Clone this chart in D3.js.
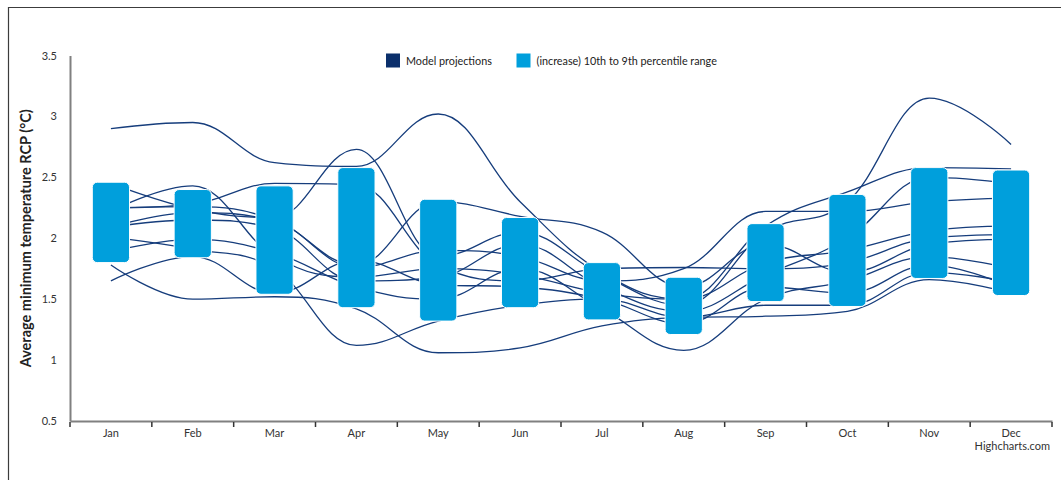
<!DOCTYPE html>
<html>
<head>
<meta charset="utf-8">
<script src="https://cdn.jsdelivr.net/npm/d3@7"></script>
<style>
  html, body { margin: 0; padding: 0; background: #fff; }
  svg { display: block; font-family: Lato, "Open Sans", sans-serif; }
</style>
</head>
<body>
<svg id="chart" width="1061" height="480"></svg>
<script>
// Months on the category axis
const months = ["Jan", "Feb", "Mar", "Apr", "May", "Jun", "Jul", "Aug", "Sep", "Oct", "Nov", "Dec"];

// 10th to 90th percentile range per month (°C increase)
const rangeLow  = [1.80, 1.84, 1.54, 1.43, 1.32, 1.43, 1.33, 1.21, 1.48, 1.44, 1.67, 1.53];
const rangeHigh = [2.46, 2.40, 2.43, 2.58, 2.32, 2.17, 1.80, 1.68, 2.12, 2.36, 2.58, 2.56];

// Individual model projections
const modelA = [2.90, 2.95, 2.62, 2.59, 3.02, 2.30, 1.72, 1.50, 1.80, 1.90, 2.06, 2.10];
const modelB = [1.65, 1.85, 1.55, 1.82, 1.62, 1.60, 1.50, 1.30, 1.60, 1.55, 1.78, 1.60];
const modelC = [1.78, 1.50, 1.52, 1.42, 1.06, 1.10, 1.28, 1.35, 1.36, 1.40, 1.66, 1.55];
const modelD = [2.45, 2.24, 2.17, 2.73, 1.85, 2.05, 1.70, 1.45, 2.05, 2.30, 3.15, 2.77];
const modelE = [2.22, 2.43, 1.85, 1.68, 1.75, 1.70, 1.55, 1.50, 2.10, 2.38, 2.58, 2.57];
const modelF = [2.25, 2.26, 2.15, 1.78, 2.30, 2.18, 2.05, 1.60, 1.95, 1.72, 1.95, 1.99];
const modelG = [2.09, 2.21, 2.14, 1.76, 1.90, 1.85, 1.65, 1.75, 2.22, 2.22, 2.30, 2.33];
const modelH = [2.09, 2.15, 2.08, 1.65, 1.68, 1.95, 1.60, 1.40, 1.70, 2.00, 2.50, 2.45];
const modelI = [2.01, 1.91, 1.75, 1.12, 1.32, 1.45, 1.50, 1.35, 1.45, 1.45, 1.72, 1.64];
const modelJ = [1.89, 1.99, 1.88, 1.60, 1.50, 1.75, 1.42, 1.08, 1.50, 1.65, 1.85, 1.75];
const modelK = [2.25, 2.28, 2.45, 2.44, 1.78, 1.65, 1.75, 1.76, 1.75, 1.80, 2.00, 2.03];

const models = [modelA, modelB, modelC, modelD, modelE, modelF, modelG, modelH, modelI, modelJ, modelK];

const yTicks = [0.5, 1, 1.5, 2, 2.5, 3, 3.5];

const legendItems = [
  { label: "Model projections", color: "#0b2f6b" },
  { label: "(increase) 10th to 9th percentile range", color: "#009fdc" }
];

const svg = d3.select("#chart");
const plot = { left: 70, right: 1052, top: 55.5, bottom: 421 };

const x = d3.scaleBand().domain(months).range([plot.left, plot.right]).padding(0);
const y = d3.scaleLinear().domain([0.5, 3.5]).range([plot.bottom, plot.top]);

// Outer chart frame (left and top edges)
svg.append("path")
  .attr("d", "M8.5,480 V7.5 H1061")
  .attr("fill", "none")
  .attr("stroke", "#3c3c3c")
  .attr("stroke-width", 1.2);

// Spline with smoothing-factor control points, overshoot clamped at extrema
function splinePath(vals) {
  const pts = vals.map((v, i) => ({ x: x(months[i]) + x.bandwidth() / 2, y: y(v) }));
  const n = pts.length;
  pts.forEach((p, i) => {
    if (i > 0 && i < n - 1) {
      const last = pts[i - 1], next = pts[i + 1];
      const lcx = (1.5 * p.x + last.x) / 2.5, lcy0 = (1.5 * p.y + last.y) / 2.5;
      const rcx = (1.5 * p.x + next.x) / 2.5, rcy0 = (1.5 * p.y + next.y) / 2.5;
      const corr = ((rcy0 - lcy0) * (rcx - p.x)) / (rcx - lcx) + p.y - rcy0;
      let lcy = lcy0 + corr, rcy = rcy0 + corr;
      if (lcy > last.y && lcy > p.y) { lcy = Math.max(last.y, p.y); rcy = 2 * p.y - lcy; }
      else if (lcy < last.y && lcy < p.y) { lcy = Math.min(last.y, p.y); rcy = 2 * p.y - lcy; }
      if (rcy > next.y && rcy > p.y) { rcy = Math.max(next.y, p.y); lcy = 2 * p.y - rcy; }
      else if (rcy < next.y && rcy < p.y) { rcy = Math.min(next.y, p.y); lcy = 2 * p.y - rcy; }
      p.lcx = lcx; p.lcy = lcy; p.rcx = rcx; p.rcy = rcy;
    }
  });
  const path = d3.path();
  pts.forEach((p, i) => {
    if (i === 0) { path.moveTo(p.x, p.y); return; }
    const prev = pts[i - 1];
    path.bezierCurveTo(
      prev.rcx ?? prev.x, prev.rcy ?? prev.y,
      p.lcx ?? p.x, p.lcy ?? p.y,
      p.x, p.y);
  });
  return path.toString();
}

// Model projection lines
svg.append("g").attr("class", "models")
  .selectAll("path")
  .data(models)
  .join("path")
  .attr("d", d => splinePath(d))
  .attr("fill", "none")
  .attr("stroke", "#163d7c")
  .attr("stroke-width", 1.3);

// Percentile range columns drawn above the lines
const colW = x.bandwidth() * 0.455;
svg.append("g").attr("class", "ranges")
  .selectAll("rect")
  .data(months)
  .join("rect")
  .attr("x", m => x(m) + x.bandwidth() / 2 - colW / 2)
  .attr("y", (m, i) => y(rangeHigh[i]))
  .attr("width", colW)
  .attr("height", (m, i) => y(rangeLow[i]) - y(rangeHigh[i]))
  .attr("rx", 5)
  .attr("fill", "#009fdc")
  .attr("stroke", "#ffffff")
  .attr("stroke-width", 1);

// Y axis
const yAxis = d3.axisLeft(y).tickValues(yTicks).tickSize(0).tickPadding(13)
  .tickFormat(d3.format("~g"));
const gy = svg.append("g").attr("transform", `translate(${plot.left},0)`).call(yAxis);
gy.select(".domain").attr("stroke", "#808080").attr("stroke-width", 2);
gy.selectAll("text").attr("font-size", 11).attr("fill", "#333").attr("font-family", "Lato, sans-serif");

// X axis with ticks on category boundaries
const xAxis = d3.axisBottom(x).tickSize(0).tickPadding(8);
const gx = svg.append("g").attr("transform", `translate(0,${plot.bottom})`).call(xAxis);
gx.select(".domain").attr("stroke", "#808080").attr("stroke-width", 2);
gx.selectAll("text").attr("font-size", 11).attr("fill", "#333").attr("font-family", "Lato, sans-serif");
gx.append("g").selectAll("line")
  .data(months.map(m => x(m) + x.bandwidth()).concat([plot.left]))
  .join("line")
  .attr("x1", d => d).attr("x2", d => d)
  .attr("y1", 1).attr("y2", 6)
  .attr("stroke", "#333").attr("stroke-width", 1.5);

// Y axis title
svg.append("text")
  .attr("transform", `translate(31,${(plot.top + plot.bottom) / 2})rotate(-90)`)
  .attr("text-anchor", "middle")
  .attr("font-size", 14.5)
  .attr("font-weight", "bold")
  .attr("fill", "#222")
  .text("Average minimum temperature RCP (°C)");

// Legend
const legend = svg.append("g").attr("transform", "translate(386,53.5)");
const legendX = [0, 130.5];
legendItems.forEach((item, i) => {
  const g = legend.append("g").attr("transform", `translate(${legendX[i]},0)`);
  g.append("rect").attr("width", 14).attr("height", 14).attr("fill", item.color);
  g.append("text").attr("x", 20).attr("y", 11).attr("font-size", 10.8).attr("fill", "#222").text(item.label);
});

// Credits
svg.append("text")
  .attr("x", 1050).attr("y", 450)
  .attr("text-anchor", "end")
  .attr("font-size", 11)
  .attr("fill", "#333")
  .text("Highcharts.com");
</script>
</body>
</html>
